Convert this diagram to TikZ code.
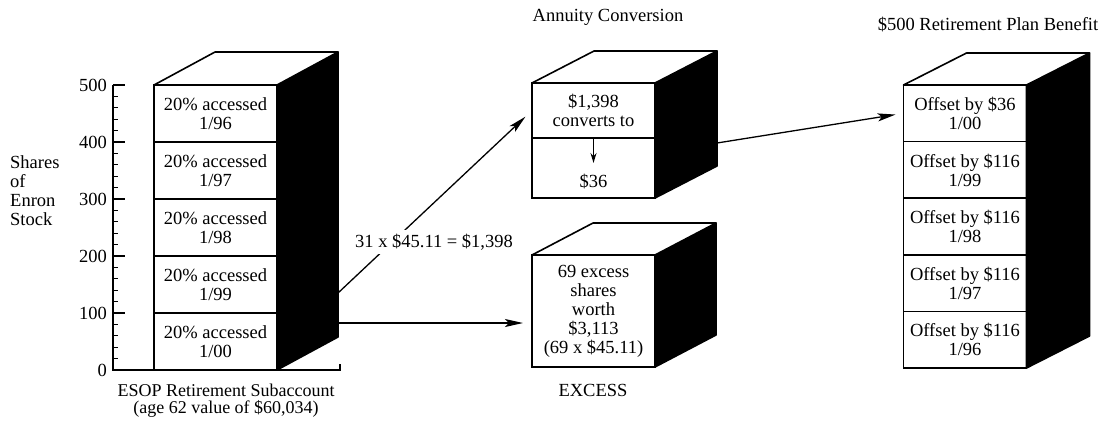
\documentclass[tikz,border=0pt]{standalone}
\usepackage{fontspec}
\setmainfont{Liberation Serif}
\usetikzlibrary{positioning,calc,arrows.meta}
\tikzset{>={Stealth[length=18pt,width=8pt,inset=4pt]}}

\begin{document}
\begin{tikzpicture}[x=1pt,y=-1pt,
  every node/.style={font=\fontsize{18.5}{19}\selectfont},
  cell/.style={draw,line width=1.6pt,minimum width=123pt,inner sep=0pt,outer sep=0pt,align=center},
  side/.style={fill=black,draw=black,line width=1.6pt,line join=round},
  lid/.style={fill=white,draw=black,line width=1.6pt,line join=round},
  flow/.style={->,line width=1.3pt}]
\useasboundingbox (0,0) rectangle (1110,421);
% Scale: 1pt per pixel, y runs down

% Share axis
\draw[line width=1.6pt] (113,85) -- (113,370) -- (340,370) -- (340,364);
\foreach \v in {0,20,...,480}
  \draw[line width=1.2pt] (113,{370-0.57*\v}) -- ++(5,0);
\foreach \v in {0,100,...,500}{
  \draw[line width=1.6pt] (113,{370-0.57*\v}) -- ++(12,0);
  \node[anchor=east,inner sep=0pt] (tick\v) at (107,{370-0.57*\v}) {\v};
}
\node[anchor=west,align=left,inner sep=0pt] (ylab) at (10,191) {Shares\\of\\Enron\\Stock};

% ESOP stack
\foreach \yr [count=\i] in {96,97,98,99,00}
  \node[cell,minimum height=57pt] (e\i) at (215.5,{113.5+57*(\i-1)}) {20\% accessed\\1/\yr};
\filldraw[side] (e1.north east) -- ++(61,-33) -- ($(e5.south east)+(61,-33)$) -- (e5.south east) -- cycle;
\filldraw[lid] (e1.north west) -- ++(61,-33) -- ++(123,0) -- (e1.north east) -- cycle;
\node[font=\fontsize{18}{17}\selectfont,align=center,inner sep=0pt] (esop) at (226,401)
  {ESOP Retirement Subaccount\\(age 62 value of \$60,034)};

% Annuity box
\node (anntitle) at (608,17) {Annuity Conversion};
\node[cell,minimum height=55pt] (an1) at (593.5,110.5) {\$1,398\\converts to};
\node[cell,minimum height=60pt] (an2) at (593.5,168) {};
\node[above=6pt of an2.south] (v36) {\$36};
\filldraw[side] (an1.north east) -- ++(62,-32) -- ($(an2.south east)+(62,-32)$) -- (an2.south east) -- cycle;
\filldraw[lid] (an1.north west) -- ++(62,-32) -- ++(123,0) -- (an1.north east) -- cycle;
\coordinate (an2t) at ($(an1.south)+(0,25)$);
\draw[->,>={Stealth[length=10pt,width=6pt]},line width=1.3pt] (an1.south) -- (an2t);

% Excess box
\node[cell,minimum height=112pt] (xs) at (593.5,311)
  {69 excess\\shares\\worth\\\$3,113\\(69 x \$45.11)};
\filldraw[side] (xs.north east) -- ++(61,-32) -- ($(xs.south east)+(61,-32)$) -- (xs.south east) -- cycle;
\filldraw[lid] (xs.north west) -- ++(61,-32) -- ++(123,0) -- (xs.north east) -- cycle;
\node (xstitle) at (593,390) {EXCESS};

% Plan benefit stack
\node (plantitle) at (988,25) {\$500 Retirement Plan Benefit};
\foreach \amt/\yr [count=\i] in {36/00,116/99,116/98,116/97,116/96}
  \node[cell,minimum height=56.6pt] (rb\i) at (965,{85+56.6*(\i-0.5)}) {Offset by \$\amt\\1/\yr};
\filldraw[side] (rb1.north east) -- ++(63,-32) -- ($(rb5.south east)+(63,-32)$) -- (rb5.south east) -- cycle;
\filldraw[lid] (rb1.north west) -- ++(63,-32) -- ++(123,0) -- (rb1.north east) -- cycle;

% Flows between boxes
\coordinate (lback) at ($(e1.north east)+(61,-33)$);
\coordinate (out1) at ($(lback)+(0,241)$);
\coordinate (out2) at ($(lback)+(0,271)$);
\coordinate (out3) at ($(an1.north east)+(62,60)$);
\draw[flow,shorten >=9pt] (out1) -- (an1.west);
\node[fill=white,inner sep=4pt] (rate) at (434,242) {31 x \$45.11 = \$1,398};
\draw[flow,shorten >=9pt] (out2) -- (out2 -| xs.west);
\draw[flow,shorten >=8pt] (out3) -- (rb1.west);
\end{tikzpicture}
\end{document}
